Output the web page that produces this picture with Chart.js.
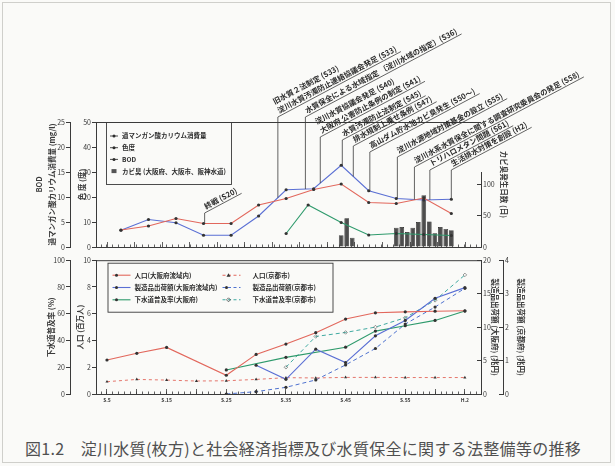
<!DOCTYPE html>
<html lang="ja">
<head>
<meta charset="utf-8">
<title>淀川水質と社会経済指標の推移</title>
<script src="https://cdn.jsdelivr.net/npm/chart.js@4.4.1/dist/chart.umd.min.js"></script>
<style>
  html, body { margin: 0; padding: 0; background: #fff; }
  .page { position: relative; width: 615px; height: 466px; background: #fafaf8; overflow: hidden; }
  .frame { position: absolute; left: 2px; top: 2px; width: 607px; height: 459px; border: 1px solid #cfcfcb; }
  #top { position: absolute; left: 0; top: 0; }
  #bottom { position: absolute; left: 0; top: 250px; }
  .caption { position: absolute; left: 25px; top: 436px; font: 16px "Noto Sans CJK JP", sans-serif; letter-spacing: 0.3px; color: #505050; white-space: nowrap; }
</style>
</head>
<body>
<div class="page">
  <div class="frame"></div>
  <canvas id="top" width="615" height="260"></canvas>
  <canvas id="bottom" width="615" height="172"></canvas>
  <div class="caption">図1.2　淀川水質(枚方)と社会経済指標及び水質保全に関する法整備等の推移</div>
</div>

<script>
  // ---- water quality at Hirakata (top panel) ----
  const wqYears = [5, 10, 15, 20, 25, 30, 35, 40, 45, 50, 55, 60, 65];
  const kmno4   = [3.4, 4.2, 5.7, 4.7, 4.7, 8.4, 9.7, 11.5, 12.6, 8.9, 8.7, 9.8, 6.7];      // mg/l
  const colour  = [6.7, 11.0, 9.7, 4.7, 4.7, 12.4, 22.9, 23.3, 32.7, 22.5, 19.4, 18.8, 19.1]; // 度
  const bodYears = [35, 39, 45, 50, 55, 60, 65];
  const bod      = [2.7, 8.4, 4.9, 2.4, 2.7, 2.5, 2.3];                                     // mg/l
  const odourYears = [45, 46, 47, 55, 56, 57, 58, 59, 60, 61, 62, 63, 64, 65];
  const odourDays  = [19, 46, 15, 31, 32, 24, 31, 40, 83, 41, 22, 32, 29, 27];              // 日

  // ---- socio-economic indicators (bottom panel) ----
  const popYears   = [5, 10, 15, 25, 30, 35, 40, 45, 50, 55, 60, 65];
  const popOsaka   = [2.54, 3.04, 3.48, 1.40, 2.96, 3.73, 4.58, 5.6, 6.07, 6.14, 6.19, 6.22]; // 百万人
  const popKyotoYears = [5, 10, 15, 20, 25, 30, 35, 40, 45, 50, 55, 60, 65];
  const popKyoto   = [0.92, 1.09, 1.04, 0.97, 0.99, 1.09, 1.22, 1.2, 1.24, 1.24, 1.23, 1.23, 1.23];
  const shipOsakaYears = [30, 35, 40, 45, 50, 55, 60, 65];
  const shipOsaka  = [4.3, 2.2, 6.7, 4.7, 8.7, 11.0, 14.3, 15.9];                             // 兆円
  const shipKyotoYears = [25, 30, 35, 40, 45, 50, 55, 60, 65];
  const shipKyoto  = [0.0, 0.07, 0.2, 0.42, 0.87, 1.36, 2.09, 2.6, 3.16];                     // 兆円
  const sewerOsakaYears = [25, 35, 45, 50, 55, 60, 65];
  const sewerOsaka = [18, 27.4, 35, 47, 51, 55, 62];                                          // %
  const sewerKyotoYears = [35, 40, 45, 50, 55, 60, 65];
  const sewerKyoto = [20, 43, 46, 50, 57, 70, 89];                                            // %

  // ---- law / event annotations ----
  const annoTexts = [
    ['終戦 (S20)'],
    ['旧水質２法制定 (S33)', '淀川水質汚濁防止連絡協議会発足 (S33)'],
    ['水質保全による水域指定 〔淀川水域の指定〕(S36)'],
    ['淀川水質協議会発足 (S40)', '大阪府 公害防止条例の制定 (S41)'],
    ['水質汚濁防止法制定 (S45)'],
    ['排水規制上乗せ条例 (S47)'],
    ['高山ダム貯水池カビ臭発生 (S50～)'],
    ['淀川水源地域対策基金の設立 (S55)'],
    ['淀川水系水質保全に関する調査研究委員会の発足 (S58)'],
    ['トリハロメタン問題 (S61)'],
    ['生活排水対策を創設 (H2)']
  ];

  const FONT = '"Noto Sans CJK JP", "DejaVu Sans", sans-serif';
  const INK = '#3a3a3a';
  const RED = '#e2675c', BLUE = '#5a6fd4', GREEN = '#2e9a6c', TEAL = '#3fa9a0', BLUE2 = '#4f72cf';
  const X_MIN = 3.16, X_MAX = 67.7;

  Chart.defaults.font.family = FONT;
  Chart.defaults.font.size = 7;
  Chart.defaults.color = INK;

  function pts(xs, ys) { return xs.map((x, i) => ({x: x, y: ys[i]})); }
  function interp(xs, ys, x) {
    for (let i = 0; i < xs.length - 1; i++) {
      if (x >= xs[i] && x <= xs[i + 1]) return ys[i] + (ys[i + 1] - ys[i]) * (x - xs[i]) / (xs[i + 1] - xs[i]);
    }
    return ys[ys.length - 1];
  }
  function yearLabel(v) { return v === 65 ? 'H.2' : 'S.' + v; }

  function lineSet(label, data, color, axis, extra) {
    return Object.assign({
      type: 'line', label: label, data: data, yAxisID: axis,
      borderColor: color, borderWidth: 1.1, tension: 0,
      pointRadius: 1.6, pointBackgroundColor: '#333', pointBorderWidth: 0
    }, extra || {});
  }

  function leftAxis(min, max, step, title, width, titlePad, weight) {
    return {
      position: 'left', weight: weight, min: min, max: max,
      ticks: {stepSize: step, padding: 1, font: {size: 7}},
      grid: {drawOnChartArea: false, tickLength: 4, color: INK},
      border: {color: INK, width: 1},
      title: {display: true, text: title, padding: {top: titlePad, bottom: 0}, font: {size: 7.5, weight: 'bold', lineHeight: 1.7}},
      afterFit: s => { s.width = width; }
    };
  }
  function rightAxis(min, max, step, title, width, titlePad, weight, hideAbove) {
    return {
      position: 'right', weight: weight, min: min, max: max,
      ticks: {stepSize: step, padding: 6, font: {size: 7},
        callback: v => (hideAbove !== undefined && v > hideAbove) ? '' : v},
      grid: {drawOnChartArea: false, tickLength: -4,
        color: c => (hideAbove !== undefined && c.tick && c.tick.value > hideAbove) ? 'rgba(0,0,0,0)' : INK},
      border: {color: INK, width: 1, display: hideAbove === undefined},
      title: {display: true, text: title, padding: {top: titlePad, bottom: 0}, font: {size: 7.5, weight: 'bold'}},
      afterFit: s => { s.width = width; }
    };
  }
  function tickAxis(step, len, weight) {
    return {
      type: 'linear', position: 'bottom', weight: weight, min: X_MIN, max: X_MAX,
      ticks: {display: false, stepSize: step, includeBounds: false},
      grid: {drawOnChartArea: false, tickLength: len, color: INK, lineWidth: 0.8},
      border: {display: false},
      afterFit: s => { s.height = 0; }
    };
  }

  // frame line on top of each panel
  const topLine = {
    id: 'topLine',
    afterDraw(chart) {
      const {ctx, chartArea} = chart;
      ctx.save();
      ctx.strokeStyle = INK; ctx.lineWidth = 1;
      ctx.beginPath(); ctx.moveTo(chartArea.left, chartArea.top + 0.5); ctx.lineTo(chartArea.right, chartArea.top + 0.5);
      ctx.stroke();
      ctx.restore();
    }
  };

  const topLegend = {
    id: 'topLegend',
    afterDatasetsDraw(chart) {
      const {ctx, chartArea: a} = chart;
      const x = a.left + 10, y = a.top;
      ctx.save();
      ctx.fillStyle = '#fafaf8';
      ctx.fillRect(x, y, 125, 62);
      ctx.strokeStyle = INK; ctx.lineWidth = 0.9;
      ctx.strokeRect(x + 0.5, y + 0.5, 125, 62);
      ctx.font = 'bold 6.5px ' + FONT; ctx.fillStyle = '#2c2c2c'; ctx.textBaseline = 'middle';
      const rows = ['過マンガン酸カリウム消費量', '色度', 'BOD', 'カビ臭 (大阪府、大阪市、阪神水道)'];
      rows.forEach((t, i) => {
        const ry = y + 14 + i * 11.7;
        if (i < 3) {
          ctx.beginPath(); ctx.moveTo(x + 4, ry); ctx.lineTo(x + 12, ry); ctx.stroke();
          ctx.beginPath(); ctx.arc(x + 8, ry, 1.5, 0, Math.PI * 2); ctx.fill();
        } else {
          ctx.fillStyle = '#555'; ctx.fillRect(x + 5.5, ry - 2, 5, 4); ctx.fillStyle = '#2c2c2c';
        }
        ctx.fillText(t, x + 16, ry);
      });
      ctx.restore();
    }
  };

  const annotations = {
    id: 'annotations',
    afterDraw(chart) {
      const {ctx, chartArea, scales} = chart;
      // where each leader stands (in years on the x scale) and how high it rises above the frame top (px)
      const leaderAt  = [20.2, 33.5, 38.5, 41.2, 45.2, 47.2, 50.2, 55.2, 58.3, 61.1, 65];
      const leaderTop = [91, -5, -5, 15, 18, 24, 30, 35, 45, 48, 48];
      const ang = -28 * Math.PI / 180;
      ctx.save();
      ctx.strokeStyle = '#3c3c3c'; ctx.fillStyle = '#2a2a2a'; ctx.lineWidth = 0.8;
      ctx.font = 'bold 7.5px ' + FONT;
      annoTexts.forEach((lines, i) => {
        const yr = leaderAt[i];
        const x = scales.x.getPixelForValue(yr);
        const yData = Math.min(scales.yColour.getPixelForValue(interp(wqYears, colour, yr)),
                               scales.yMg.getPixelForValue(interp(wqYears, kmno4, yr)));
        const yTop = chartArea.top + leaderTop[i];
        const len = Math.max(...lines.map(t => ctx.measureText(t).width)) + 6;
        ctx.beginPath();
        ctx.moveTo(x, yData); ctx.lineTo(x, yTop);
        ctx.lineTo(x + len * Math.cos(ang), yTop + len * Math.sin(ang));
        ctx.stroke();
        ctx.save();
        ctx.translate(x, yTop); ctx.rotate(ang);
        lines.forEach((t, j) => ctx.fillText(t, 3, -2.5 - (lines.length - 1 - j) * 10));
        ctx.restore();
      });
      ctx.restore();
    }
  };

  new Chart('top', {
    data: {
      datasets: [
        lineSet('過マンガン酸カリウム消費量', pts(wqYears, kmno4), RED, 'yMg'),
        lineSet('色度', pts(wqYears, colour), BLUE, 'yColour'),
        lineSet('BOD', pts(bodYears, bod), GREEN, 'yMg'),
        {type: 'bar', label: 'カビ臭', data: pts(odourYears, odourDays), yAxisID: 'yDays',
         backgroundColor: '#4d4d4d', borderColor: '#222', borderWidth: 0.7,
         barPercentage: 1, categoryPercentage: 0.85}
      ]
    },
    options: {
      responsive: false, animation: false,
      layout: {padding: {top: 122, bottom: 13, left: 0, right: 94}},
      plugins: {legend: {display: false}, tooltip: {enabled: false}},
      scales: {
        x: Object.assign(tickAxis(5, -5, 0), {border: {display: true, color: INK}}),
        xMinor: tickAxis(1, -2.5, 1),
        yColour: leftAxis(0, 50, 10, '色 度 (度)', 26, 6, 0),
        yMg: leftAxis(0, 25, 5, ['BOD', '過マンガン酸カリウム消費量 (mg/l)'], 70, 33, 1),
        yDays: rightAxis(0, 200, 50, 'カビ臭発生日数 (日)', 40, 13, 0, 100)
      }
    },
    plugins: [topLine, topLegend, annotations,
      {id: 'daysLine', afterDraw(chart) {
        const s = chart.scales.yDays, c = chart.ctx;
        c.save(); c.strokeStyle = INK; c.lineWidth = 1;
        c.beginPath(); c.moveTo(s.left + 0.5, s.getPixelForValue(0)); c.lineTo(s.left + 0.5, s.getPixelForValue(120)); c.stroke();
        c.restore();
      }}]
  });

  const bottomLegend = {
    id: 'bottomLegend',
    afterDatasetsDraw(chart) {
      const {ctx, chartArea: a} = chart;
      const x = a.left + 11.5, y = a.top + 2.5;
      ctx.save();
      ctx.fillStyle = '#fafaf8';
      ctx.fillRect(x, y, 225, 49);
      ctx.strokeStyle = INK; ctx.lineWidth = 0.9;
      ctx.strokeRect(x + 0.5, y + 0.5, 225, 49);
      ctx.font = 'bold 6.5px ' + FONT; ctx.textBaseline = 'middle';
      const items = [
        ['人口(大阪府流域内)', RED, false, 0], ['製造品出荷額(大阪府流域内)', BLUE, false, 0], ['下水道普及率(大阪府)', GREEN, false, 0],
        ['人口(京都市)', RED, true, 1], ['製造品出荷額(京都市)', BLUE2, true, 0], ['下水道普及率(京都市)', TEAL, true, 2]
      ];
      items.forEach((it, i) => {
        const col = i < 3 ? 0 : 1, row = i % 3;
        const lx = x + (col ? 115 : 5), ry = y + 12.5 + row * 12.3;
        ctx.strokeStyle = it[1]; ctx.lineWidth = 1.1;
        ctx.setLineDash(it[2] ? [3, 2.5] : []);
        ctx.beginPath(); ctx.moveTo(lx, ry); ctx.lineTo(lx + 18, ry); ctx.stroke();
        ctx.setLineDash([]);
        ctx.fillStyle = '#333';
        ctx.beginPath();
        if (it[3] === 1) { ctx.moveTo(lx + 6, ry - 2); ctx.lineTo(lx + 8, ry + 1.5); ctx.lineTo(lx + 4, ry + 1.5); ctx.closePath(); ctx.fill(); }
        else if (it[3] === 2) { ctx.strokeStyle = '#333'; ctx.lineWidth = 0.7; ctx.moveTo(lx + 6, ry - 2); ctx.lineTo(lx + 8, ry); ctx.lineTo(lx + 6, ry + 2); ctx.lineTo(lx + 4, ry); ctx.closePath(); ctx.stroke(); }
        else { ctx.arc(lx + 4, ry, 1.5, 0, Math.PI * 2); ctx.fill(); }
        ctx.fillStyle = '#2c2c2c';
        ctx.fillText(it[0], lx + (col ? 30 : 22), ry);
      });
      ctx.restore();
    }
  };

  new Chart('bottom', {
    data: {
      datasets: [
        lineSet('人口(大阪府流域内)', pts(popYears, popOsaka), RED, 'yPop'),
        lineSet('製造品出荷額(大阪府流域内)', pts(shipOsakaYears, shipOsaka), BLUE, 'yShipO'),
        lineSet('下水道普及率(大阪府)', pts(sewerOsakaYears, sewerOsaka), GREEN, 'ySewer'),
        lineSet('人口(京都市)', pts(popKyotoYears, popKyoto), RED, 'yPop',
          {borderDash: [3, 3], borderWidth: 0.9, pointStyle: 'triangle', pointRadius: 1.8}),
        lineSet('製造品出荷額(京都市)', pts(shipKyotoYears, shipKyoto), BLUE2, 'yShipK',
          {borderDash: [4, 3], borderWidth: 1}),
        lineSet('下水道普及率(京都市)', pts(sewerKyotoYears, sewerKyoto), TEAL, 'ySewer',
          {borderDash: [4, 3], borderWidth: 1, pointStyle: 'rectRot', pointRadius: 1.8,
           pointBackgroundColor: 'rgba(0,0,0,0)', pointBorderColor: '#555', pointBorderWidth: 0.6})
      ]
    },
    options: {
      responsive: false, animation: false,
      layout: {padding: {top: 10, bottom: 12, left: 0, right: 82}},
      plugins: {legend: {display: false}, tooltip: {enabled: false}},
      scales: {
        x: {
          type: 'linear', position: 'bottom', weight: 2, min: X_MIN, max: X_MAX,
          ticks: {stepSize: 5, includeBounds: false, padding: 3, maxRotation: 0, autoSkip: false,
            font: {size: 5, weight: 'bold'},
            callback: v => (v % 10 === 5 ? yearLabel(v) : '')},
          grid: {drawOnChartArea: false, drawTicks: false},
          border: {color: INK, width: 1},
          afterFit: s => { s.height = 16; }
        },
        xMajor: tickAxis(5, -5, 0),
        xMinor: tickAxis(1, -2.5, 1),
        yPop: leftAxis(0, 10, 2, '人口 (百万人)', 26, 3.5, 0),
        ySewer: leftAxis(0, 100, 20, '下水道普及率 (%)', 70, 45, 1),
        yShipO: rightAxis(0, 20, 5, '製造品出荷額 (大阪府) (兆円)', 22, 3.5, 0),
        yShipK: rightAxis(0, 4, 1, '製造品出荷額 (京都府) (兆円)', 30, 8, 1)
      }
    },
    plugins: [topLine, bottomLegend]
  });
</script>
</body>
</html>
